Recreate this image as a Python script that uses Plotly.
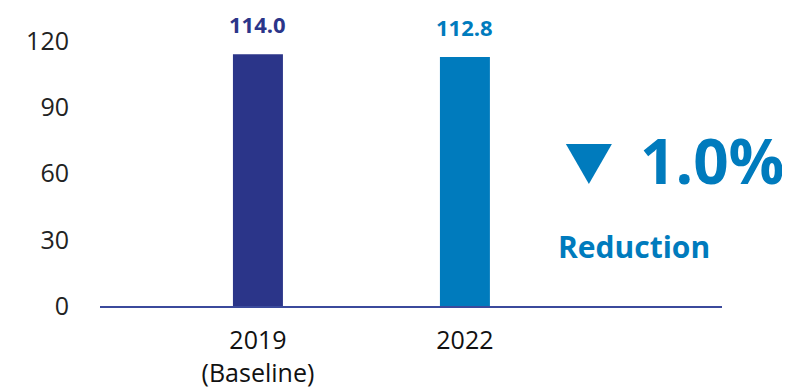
import plotly.graph_objects as go

categories = ["2019<br>(Baseline)", "2022"]
values = [114.0, 112.8]
bar_colors = ["#2B3589", "#007BBD"]
y_ticks = [0, 30, 60, 90, 120]
change_text = "1.0%"
change_label = "Reduction"

fig = go.Figure()
fig.add_trace(go.Bar(
    x=categories, y=values, width=0.2415,
    marker=dict(color=bar_colors, line=dict(width=0)),
    hoverinfo="skip",
))

for i, (v, col) in enumerate(zip(values, bar_colors)):
    fig.add_annotation(x=i, y=v, text=f"<b>{v:.1f}</b>", showarrow=False,
                       yanchor="bottom", yshift=13,
                       font=dict(family="Open Sans", size=22, color=col))

fig.add_annotation(xref="paper", yref="paper", x=1.103, y=0.551, text=f"<b>{change_text}</b>",
                   showarrow=False, xanchor="right", yanchor="middle",
                   font=dict(family="Open Sans", size=62, color="#007BBD"))
fig.add_annotation(xref="paper", yref="paper", x=0.859, y=0.226, text=f"<b>{change_label}</b>",
                   showarrow=False, xanchor="center", yanchor="middle",
                   font=dict(family="Open Sans", size=30, color="#007BBD"))
fig.add_shape(type="path", xref="paper", yref="paper",
              path="M 0.749 0.611 L 0.823 0.611 L 0.786 0.460 Z",
              fillcolor="#007BBD", line=dict(width=0))

fig.update_layout(
    width=790, height=391,
    margin=dict(l=92, r=76, t=33, b=93),
    paper_bgcolor="white", plot_bgcolor="white",
    showlegend=False,
    xaxis=dict(type="category", range=[-0.763, 2.242], showgrid=False, automargin=False,
               showline=True, linecolor="#3B4A9C", linewidth=2,
               ticks="", ticklabelstandoff=11,
               tickfont=dict(family="Liberation Sans Narrow, Open Sans", size=25, color="#111")),
    yaxis=dict(range=[0, 120], tickvals=y_ticks, showgrid=False, zeroline=False, automargin=False,
               showline=False, ticks="", ticklabelstandoff=30,
               tickfont=dict(family="Open Sans", size=25, color="#222")),
)

fig.write_html("out.html")
